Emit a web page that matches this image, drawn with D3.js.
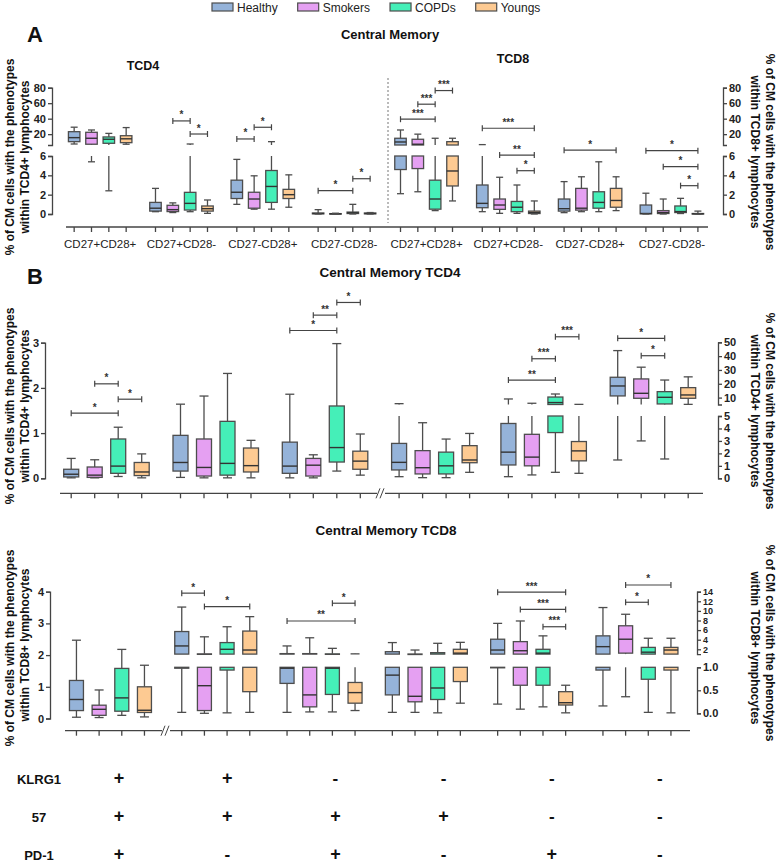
<!DOCTYPE html>
<html><head><meta charset="utf-8">
<script src="https://cdn.jsdelivr.net/npm/d3@7"></script>
<style>
body{margin:0;background:#fff;}
svg{display:block;}
</style></head><body>
<svg id="c" width="778" height="864"></svg>
<script>
// ---------------- DATA ----------------
const seriesNames = ["Healthy","Smokers","COPDs","Youngs"];
const seriesColors = ["#95b3d9","#e5a0f2","#45efb8","#fdca92"];

// Panel A categories
const aCategories = ["CD27+CD28+","CD27+CD28-","CD27-CD28+","CD27-CD28-"];
// box stats [min,q1,median,q3,max], one row per series (Healthy, Smokers, COPDs, Youngs), one entry per category
const aTCD4 = [
  [[7.3,10.3,15.5,23.2,29],[0.24,0.3,0.6,1.2,2.65],[1.0,1.6,2.25,3.5,5.65],[0,0.02,0.05,0.1,0.45]],
  [[5.4,7,14.7,22.4,25.4],[0.15,0.25,0.45,0.9,1.15],[0.5,0.6,1.55,2.25,3.95],[0,0.01,0.02,0.04,0.08]],
  [[2.4,8.2,13.4,16.4,21],[0.24,0.41,1.1,2.24,7.3],[0.5,1.2,2.85,4.5,10.3],[0,0.05,0.12,0.2,1.0]],
  [[7,9,14,18,28.5],[0.07,0.3,0.55,0.83,1.45],[0.7,1.6,2.0,2.55,4.05],[0,0.02,0.05,0.1,0.15]]
];
const aTCD8 = [
  [[2.1,4.6,9.9,14.7,25.4],[0.24,0.65,1.1,3.0,6.5],[0.14,0.3,0.55,1.55,3.35],[0,0.02,0.05,0.93,2.15]],
  [[2.3,4.7,7,13.4,20],[0.07,0.48,0.93,1.55,3.8],[0.24,0.4,0.6,2.65,3.85],[0,0.05,0.15,0.35,1.55]],
  [[0.35,0.5,1.55,3.5,14.7],[0.07,0.24,0.7,1.3,3.0],[0.24,0.6,1.2,2.3,5.4],[0.05,0.15,0.25,0.83,1.62]],
  [[1.35,2.9,4.45,10.3,14.7],[0,0.05,0.15,0.3,1.35],[0.35,0.7,1.4,2.65,3.85],[0,0,0.02,0.05,0.3]]
];
// significance brackets: [category index, from series, to series, y value, label, forced segment]
const aTCD4Sig = [[1,1,2,37.1,"*"],[1,2,3,20.2,"*"],[2,0,1,13.8,"*"],[2,1,2,28.9,"*"],[3,0,2,2.41,"*"],[3,2,3,3.65,"*"]];
const aTCD8Sig = [[0,0,2,39.3,"***"],[0,1,2,58.7,"***"],[0,2,3,76.3,"***"],
  [1,0,3,27.6,"***"],[1,1,3,6.1,"**",0],[1,2,3,4.48,"*"],
  [2,0,3,6.6,"*",0],
  [3,0,3,6.55,"*",0],[3,1,3,4.9,"*"],[3,2,3,2.93,"*"]];
const aTicksHi = [20,40,60,80];
const aTicksLo = [0,2,4,6];

// Panel B phenotype table
const klrg1Signs = ["+","+","-","-","-","-"];
const cd57Signs  = ["+","+","+","+","-","-"];
const pd1Signs   = ["+","-","+","-","+","-"];
const bPhenotypes = klrg1Signs.map((k,i)=>"KLRG1"+k+" 57"+cd57Signs[i]+" PD-1"+pd1Signs[i]);

const bTCD4 = [
  [[0.01,0.03,0.09,0.2,0.44],[0.02,0.16,0.35,0.95,1.64],[0.01,0.11,0.27,0.8,1.86],[0.13,0.67,1.28,2.8,5.6],[0.13,1.07,2.1,4.4,9],[1.47,11.2,18.4,24.7,44]],
  [[0.01,0.02,0.07,0.25,0.41],[0.01,0.05,0.24,0.87,1.82],[0.01,0.05,0.29,0.44,0.52],[0.05,0.35,0.85,2.22,4.46],[0.27,1.0,1.7,3.53,5.9],[3.0,9.5,13.1,23.5,32]],
  [[0.04,0.11,0.27,0.87,1.13],[0.01,0.07,0.33,1.26,2.32],[0.16,0.36,0.68,1.6,2.98],[0.05,0.35,1.0,2.1,3.15],[0.48,3.67,6.4,10.4,12.6],[1.55,5.4,10.2,14.3,22.7]],
  [[0.01,0.06,0.14,0.35,0.54],[0.01,0.14,0.28,0.67,0.84],[0.07,0.2,0.38,0.6,0.98],[0.48,1.25,1.47,2.62,3.6],[0.4,1.4,2.2,2.95,5.1],[5.1,9.5,11.9,17.2,25]]
];
const bTCD4Sig = [[0,0,2,1.44,"*"],[0,1,2,2.09,"*"],[0,2,3,1.75,"*"],
  [2,0,2,3.27,"*"],[2,1,2,3.61,"**"],[2,2,3,3.89,"*"],
  [4,0,2,22.7,"**"],[4,1,2,38.1,"***"],[4,2,3,54,"***"],
  [5,0,2,52.9,"*"],[5,1,2,40.3,"*"]];
const bTCD4TicksL = [0,1,2,3];
const bTCD4TicksHi = [10,20,30,40,50];
const bTCD4TicksLo = [0,1,2,3,4,5];

const bTCD8 = [
  [[0.04,0.25,0.6,1.2,2.47],[0.02,0.98,2.7,5.7,10.8],[0.02,0.65,0.98,1.1,2.7],[0.02,0.4,0.83,1.5,3.4],[0.2,0.99,1.85,4.1,7.4],[0.16,0.94,2.55,4.8,10.7]],
  [[0.03,0.1,0.29,0.42,0.9],[0.0,0.06,0.6,1.05,4.6],[0.03,0.14,0.4,1.1,4.4],[0.02,0.25,0.37,1.02,1.85],[0.09,0.61,1.7,3.6,7.9],[0.36,1.2,4.1,6.9,9.3]],
  [[0.1,0.23,0.65,1.58,2.18],[0.01,0.94,2.0,3.4,6.7],[0.03,0.41,0.98,1.05,2.2],[0.01,0.3,0.55,1.3,3.25],[0.14,0.61,1.2,2.0,4.8],[0.02,0.74,1.4,2.4,4.3]],
  [[0.05,0.19,0.26,1.0,1.68],[0.02,0.47,1.85,5.8,8.8],[0.06,0.22,0.45,0.67,1.05],[0.22,0.69,1.2,2.0,3.45],[0.01,0.18,0.23,0.47,0.61],[0.01,0.94,1.85,2.4,4.3]]
];
const bTCD8Sig = [[1,0,1,13.7,"*"],[1,1,3,10.9,"*"],
  [2,0,3,7.9,"**"],[2,2,3,11.6,"*"],
  [4,0,3,13.9,"***"],[4,1,3,10.3,"***"],[4,2,3,6.7,"***"],
  [5,1,3,15.4,"*"],[5,1,2,11.8,"*"]];
const bTCD8TicksL = [0,1,2,3,4];
const bTCD8TicksHi = [2,4,6,8,10,12,14];
const bTCD8TicksLo = [0,0.5,1.0];

// ---------------- DRAWING ----------------
const FONT = "'Liberation Sans', Arial, sans-serif";
const NARROW = "'Liberation Sans Narrow', 'Liberation Sans', Arial, sans-serif";
const STROKE = "#4d4d4d";
const svg = d3.select("#c").attr("font-family", FONT);

function text(x,y,str,opt={}){
  const t = svg.append("text").attr("x",x).attr("y",y).text(str)
    .attr("font-size",opt.size||12).attr("font-weight",opt.weight||"normal")
    .attr("text-anchor",opt.anchor||"start").attr("fill",opt.fill||"#111")
    .attr("font-family",opt.family||FONT);
  if(opt.rotate) t.attr("transform",`rotate(${opt.rotate},${x},${y})`);
  return t;
}

function yOf(segs,v,force){
  if(force!==undefined) return segs[force].y(v);
  const s = segs.find(s=>v>s.d0 && v<=s.d1) || segs[segs.length-1];
  return s.y(v);
}

function drawBox(g,cx,w,capW,v,segs,fill){
  const [mn,q1,md,q3,mx]=v;
  segs.forEach(s=>{
    const clip=(a,b)=>[Math.max(a,s.d0),Math.min(b,s.d1)];
    const inSeg=val=>val>s.d0 && val<=s.d1;
    [[q3,mx],[mn,q1]].forEach(([a,b])=>{
      const [c0,c1]=clip(a,b);
      if(c1>c0) g.append("line").attr("x1",cx).attr("x2",cx).attr("y1",s.y(c0)).attr("y2",s.y(c1))
        .attr("stroke",STROKE).attr("stroke-width",1.3);
    });
    const [b0,b1]=clip(q1,q3);
    if(b1>b0) g.append("rect").attr("x",cx-w/2).attr("y",s.y(b1)).attr("width",w)
      .attr("height",Math.max(0.5,s.y(b0)-s.y(b1))).attr("fill",fill).attr("stroke",STROKE).attr("stroke-width",1.3);
    if(inSeg(md)) g.append("line").attr("x1",cx-w/2).attr("x2",cx+w/2).attr("y1",s.y(md)).attr("y2",s.y(md))
      .attr("stroke","#333").attr("stroke-width",1.4);
    [mn,mx].forEach(val=>{ if(inSeg(val)) g.append("line").attr("x1",cx-capW/2).attr("x2",cx+capW/2)
      .attr("y1",s.y(val)).attr("y2",s.y(val)).attr("stroke",STROKE).attr("stroke-width",1.3); });
  });
}

function drawSig(x1,x2,y,label){
  const g=svg.append("g").attr("stroke","#444").attr("stroke-width",1.2);
  g.append("line").attr("x1",x1).attr("x2",x2).attr("y1",y).attr("y2",y);
  g.append("line").attr("x1",x1).attr("x2",x1).attr("y1",y-3).attr("y2",y+3);
  g.append("line").attr("x1",x2).attr("x2",x2).attr("y1",y-3).attr("y2",y+3);
  text((x1+x2)/2,y-2.5,label,{size:10,anchor:"middle",weight:"bold",fill:"#333"});
}

function yAxis(scale,x,orient,ticks,fmt,size,family){
  const ax=(orient==="left"?d3.axisLeft(scale):d3.axisRight(scale)).tickValues(ticks)
    .tickSize(4).tickSizeOuter(4).tickPadding(2).tickFormat(fmt||d3.format("d"));
  const g=svg.append("g").attr("transform",`translate(${x},0)`).call(ax);
  g.attr("font-family",family||FONT).attr("font-size",size||11);
  g.select(".domain").attr("stroke","#444").attr("stroke-width",1.3);
  g.selectAll(".tick line").attr("stroke","#444").attr("stroke-width",1.3);
  g.selectAll(".tick text").attr("font-weight","bold").attr("fill","#222");
}

function xAxis(y,x0,x1,positions,breakX){
  const g=svg.append("g").attr("stroke","#444").attr("stroke-width",1.3);
  g.append("line").attr("x1",x0).attr("x2",x1).attr("y1",y).attr("y2",y);
  positions.forEach(p=>g.append("line").attr("x1",p).attr("x2",p).attr("y1",y).attr("y2",y+5));
  if(breakX!==undefined){
    svg.append("rect").attr("x",breakX-4).attr("y",y-2).attr("width",8).attr("height",4).attr("fill","#fff");
    const b=svg.append("g").attr("stroke","#444").attr("stroke-width",1);
    b.append("line").attr("x1",breakX-5).attr("x2",breakX-1).attr("y1",y+5).attr("y2",y-5);
    b.append("line").attr("x1",breakX-1).attr("x2",breakX+3).attr("y1",y+5).attr("y2",y-5);
  }
}

// ---------- Legend ----------
{
  let lx=212;
  seriesNames.forEach((n,i)=>{
    svg.append("rect").attr("x",lx).attr("y",3).attr("width",21).attr("height",8)
      .attr("fill",seriesColors[i]).attr("stroke",STROKE).attr("stroke-width",1.2);
    const t=text(lx+25,11.5,n,{size:12,fill:"#222"});
    lx += 25 + t.node().getComputedTextLength() + 20;
  });
}

// ---------- Panel A ----------
text(27,42,"A",{size:22,weight:"bold"});
text(390,39,"Central Memory",{size:13,weight:"bold",anchor:"middle"});
text(143,70,"TCD4",{size:12.5,weight:"bold",anchor:"middle"});
text(513,63,"TCD8",{size:12.5,weight:"bold",anchor:"middle"});

const yAlo=d3.scaleLinear().domain([0,6]).range([214,156]);
const yAhi=d3.scaleLinear().domain([6,80]).range([145,87.7]);
const segA=[{y:yAlo,d0:-Infinity,d1:6},{y:yAhi,d0:6,d1:Infinity}];
const xAL=d3.scaleBand().domain(aCategories).range([59.5,384.8]);
const xAR=d3.scaleBand().domain(aCategories).range([385.6,712.8]);
const offA=d3.scalePoint().domain(seriesNames).range([-26,26]);
const cA=(xs,c)=>xs(c)+xs.bandwidth()/2;

svg.append("line").attr("x1",388).attr("x2",388).attr("y1",78).attr("y2",223)
  .attr("stroke","#777").attr("stroke-width",1).attr("stroke-dasharray","2,2");

const gA=svg.append("g");
[[aTCD4,xAL],[aTCD8,xAR]].forEach(([data,xs])=>{
  data.forEach((rows,si)=>rows.forEach((v,ci)=>{
    drawBox(gA,cA(xs,aCategories[ci])+offA(seriesNames[si]),11.5,7,v,segA,seriesColors[si]);
  }));
});
[[aTCD4Sig,xAL],[aTCD8Sig,xAR]].forEach(([sig,xs])=>{
  sig.forEach(([ci,a,b,v,l,f])=>{
    const c=cA(xs,aCategories[ci]);
    drawSig(c+offA(seriesNames[a]),c+offA(seriesNames[b]),yOf(segA,v,f),l);
  });
});
yAxis(yAhi,52,"left",aTicksHi);
yAxis(yAlo,52,"left",aTicksLo);
yAxis(yAhi,723,"right",aTicksHi);
yAxis(yAlo,723,"right",aTicksLo);
{
  const pos=[];
  [xAL,xAR].forEach(xs=>aCategories.forEach(c=>seriesNames.forEach(s=>pos.push(cA(xs,c)+offA(s)))));
  xAxis(227,66,708,pos);
  [xAL,xAR].forEach(xs=>aCategories.forEach(c=>text(cA(xs,c),248,c,{size:11.5,anchor:"middle",fill:"#222"})));
}
text(14,157,"% of CM cells with the phenotypes",{size:12,weight:"bold",anchor:"middle",rotate:-90});
text(29,157,"within TCD4+ lymphocytes",{size:12,weight:"bold",anchor:"middle",rotate:-90});
text(766,152,"% of CM cells with the phenotypes",{size:12,weight:"bold",anchor:"middle",rotate:90});
text(751,152,"within TCD8+ lymphocytes",{size:12,weight:"bold",anchor:"middle",rotate:90});

// ---------- Panel B: TCD4 ----------
text(27,284,"B",{size:22,weight:"bold"});
text(390,277,"Central Memory TCD4",{size:13.5,weight:"bold",anchor:"middle"});

const grp=d3.range(6);
const yB4L=d3.scaleLinear().domain([0,3]).range([478.3,342.7]);
const yB4lo=d3.scaleLinear().domain([0,5]).range([478.3,416]);
const yB4hi=d3.scaleLinear().domain([5,50]).range([404.5,342.3]);
const segB4L=[{y:yB4L,d0:-Infinity,d1:Infinity}];
const segB4R=[{y:yB4lo,d0:-Infinity,d1:5},{y:yB4hi,d0:5,d1:Infinity}];
const xB4=d3.scaleBand().domain(grp).range([51.8,707.6]);
const offB4=d3.scalePoint().domain(seriesNames).range([-35.25,35.25]);
const cB4=g=>xB4(g)+xB4.bandwidth()/2;
const gB4=svg.append("g");
bTCD4.forEach((rows,si)=>rows.forEach((v,gi)=>{
  drawBox(gB4,cB4(gi)+offB4(seriesNames[si]),15,9,v,gi<3?segB4L:segB4R,seriesColors[si]);
}));
bTCD4Sig.forEach(([gi,a,b,v,l,f])=>{
  drawSig(cB4(gi)+offB4(seriesNames[a]),cB4(gi)+offB4(seriesNames[b]),yOf(gi<3?segB4L:segB4R,v,f),l);
});
yAxis(yB4L,45,"left",bTCD4TicksL);
yAxis(yB4hi,718,"right",bTCD4TicksHi);
yAxis(yB4lo,718,"right",bTCD4TicksLo);
{
  const pos=[];
  grp.forEach(g=>seriesNames.forEach(s=>pos.push(cB4(g)+offB4(s))));
  xAxis(493.3,60,703,pos,381);
}
text(14,406,"% of CM cells with the phenotypes",{size:12,weight:"bold",anchor:"middle",rotate:-90});
text(29,406,"within TCD4+ lymphocytes",{size:12,weight:"bold",anchor:"middle",rotate:-90});
text(766,411,"% of CM cells with the phenotypes",{size:12,weight:"bold",anchor:"middle",rotate:90});
text(751,411,"within TCD4+ lymphocytes",{size:12,weight:"bold",anchor:"middle",rotate:90});

// ---------- Panel B: TCD8 ----------
text(386,535,"Central Memory TCD8",{size:13.5,weight:"bold",anchor:"middle"});
const yB8L=d3.scaleLinear().domain([0,4]).range([718.5,591.7]);
const yB8lo=d3.scaleLinear().domain([0,1]).range([713.3,667.3]);
const yB8hi=d3.scaleLinear().domain([1,14]).range([654.1,591.7]);
const segB8L=[{y:yB8L,d0:-Infinity,d1:Infinity}];
const segB8R=[{y:yB8lo,d0:-Infinity,d1:1},{y:yB8hi,d0:1,d1:Infinity}];
const xB8=d3.scaleBand().domain(grp).range([57.8,689.6]);
const offB8=d3.scalePoint().domain(seriesNames).range([-34,34]);
const cB8=g=>xB8(g)+xB8.bandwidth()/2;
const gB8=svg.append("g");
bTCD8.forEach((rows,si)=>rows.forEach((v,gi)=>{
  drawBox(gB8,cB8(gi)+offB8(seriesNames[si]),14,9,v,gi<1?segB8L:segB8R,seriesColors[si]);
}));
bTCD8Sig.forEach(([gi,a,b,v,l,f])=>{
  drawSig(cB8(gi)+offB8(seriesNames[a]),cB8(gi)+offB8(seriesNames[b]),yOf(gi<1?segB8L:segB8R,v,f),l);
});
yAxis(yB8L,50,"left",bTCD8TicksL);
yAxis(yB8hi,697,"right",bTCD8TicksHi,null,9,NARROW);
yAxis(yB8lo,697,"right",bTCD8TicksLo,d3.format(".1f"));
{
  const pos=[];
  grp.forEach(g=>seriesNames.forEach(s=>pos.push(cB8(g)+offB8(s))));
  xAxis(730.7,65,690,pos,166);
}
text(14,648,"% of CM cells with the phenotypes",{size:12,weight:"bold",anchor:"middle",rotate:-90});
text(29,645,"within TCD8+ lymphocytes",{size:12,weight:"bold",anchor:"middle",rotate:-90});
text(766,643,"% of CM cells with the phenotypes",{size:12,weight:"bold",anchor:"middle",rotate:90});
text(751,648,"within TCD8+ lymphocytes",{size:12,weight:"bold",anchor:"middle",rotate:90});

// ---------- Phenotype table ----------
const xT=d3.scaleBand().domain(grp).range([65,714]);
[["KLRG1",klrg1Signs,784],["57",cd57Signs,822],["PD-1",pd1Signs,859.5]].forEach(([lab,signs,y])=>{
  text(39,y,lab,{size:13,weight:"bold",anchor:"middle",family:NARROW});
  signs.forEach((s,i)=>text(xT(i)+xT.bandwidth()/2,y,s,{size:s==="+"?18:17,weight:"bold",anchor:"middle"}));
});
</script>
</body></html>
